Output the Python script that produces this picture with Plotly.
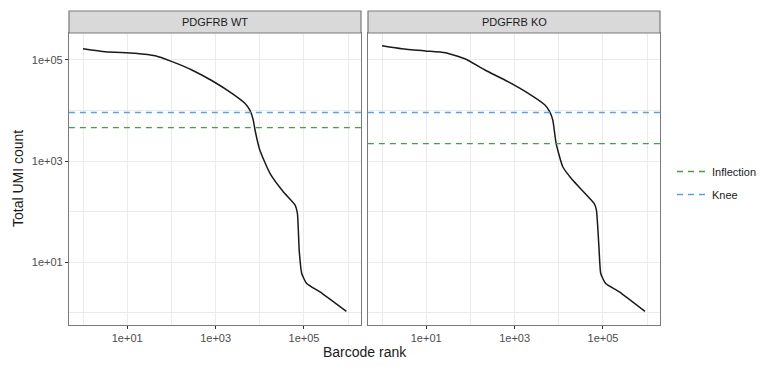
import plotly.graph_objects as go

# Barcode rank curves
wt_rank = [1, 3.2, 15, 43, 100, 290, 815, 2300, 4600, 6000, 7100, 7800, 10000, 17000, 34000, 63000, 71000, 78000, 89000, 115000, 230000, 9.1e5]
wt_umi = [1.66e5, 1.45e5, 1.35e5, 1.2e5, 9.3e4, 6.3e4, 3.9e4, 2.2e4, 1.38e4, 1.0e4, 6500, 4100, 1650, 570, 247, 135, 92, 17, 6, 3.8, 2.6, 1.07]

ko_rank = [1, 2.8, 9.5, 27, 75, 213, 710, 2000, 4800, 6200, 7300, 8700, 12300, 20500, 63000, 71000, 81000, 89000, 115000, 234000, 8.9e5]
ko_umi = [1.9e5, 1.66e5, 1.5e5, 1.38e5, 1.05e5, 6.3e4, 3.7e4, 2.2e4, 1.29e4, 9500, 6500, 2240, 770, 420, 145, 107, 20, 6, 3.8, 2.6, 1.07]

panels = ["PDGFRB WT", "PDGFRB KO"]
knee = [9100, 9100]
inflection = [4570, 2200]

x_ticks = [10, 1000, 100000]
x_tick_labels = ["1e+01", "1e+03", "1e+05"]
x_minor = [1, 100, 10000, 1000000]
y_ticks = [10, 1000, 100000]
y_tick_labels = ["1e+01", "1e+03", "1e+05"]
y_minor = [1, 100, 10000]

GREEN = "#44a044"
BLUE = "#55a2ec"
BORDER = "#7a7a7a"
GRID = "#ebebeb"

fig = go.Figure()

curves = [(wt_rank, wt_umi), (ko_rank, ko_umi)]
for i, (xr, yu) in enumerate(curves):
    xa = "x" if i == 0 else "x2"
    ya = "y" if i == 0 else "y2"
    fig.add_trace(go.Scatter(x=xr, y=yu, mode="lines", line=dict(color="#1a1a1a", width=1.5, shape="spline", smoothing=0.5),
                             xaxis=xa, yaxis=ya, showlegend=False, hoverinfo="skip"))
    xs = [10 ** -0.32, 10 ** 6.29]
    fig.add_trace(go.Scatter(x=xs, y=[inflection[i]] * 2, mode="lines",
                             line=dict(color=GREEN, width=1.3, dash="6px,5px"),
                             xaxis=xa, yaxis=ya, name="Inflection", legendgroup="Inflection",
                             showlegend=(i == 0)))
    fig.add_trace(go.Scatter(x=xs, y=[knee[i]] * 2, mode="lines",
                             line=dict(color=BLUE, width=1.3, dash="6px,5px"),
                             xaxis=xa, yaxis=ya, name="Knee", legendgroup="Knee",
                             showlegend=(i == 0)))

W, H = 762, 367
ml, mr, mt, mb = 69, 102, 33, 42
plot_w = W - ml - mr
plot_h = H - mt - mb
d1 = [0, 292 / plot_w]
d2 = [(368 - ml) / plot_w, 1]

axfont = dict(family="Liberation Sans, Arial", size=11, color="#4d4d4d")
xcommon = dict(type="log", range=[-0.317, 6.29], tickvals=x_ticks, ticktext=x_tick_labels,
               showgrid=True, gridcolor=GRID, gridwidth=1,
               minor=dict(tickvals=x_minor, showgrid=True, gridcolor=GRID, gridwidth=0.6, ticks=""),
               ticks="outside", ticklen=3, tickcolor="#333333", tickwidth=1, tickfont=axfont,
               showline=True, linecolor=BORDER, linewidth=1.2, mirror=True, zeroline=False)
ycommon = dict(type="log", range=[-0.24, 5.53], tickvals=y_ticks, ticktext=y_tick_labels,
               showgrid=True, gridcolor=GRID, gridwidth=1,
               minor=dict(tickvals=y_minor, showgrid=True, gridcolor=GRID, gridwidth=0.6, ticks=""),
               tickcolor="#333333", tickwidth=1, ticklen=3, tickfont=axfont,
               showline=True, linecolor=BORDER, linewidth=1.2, mirror=True, zeroline=False)

fig.update_layout(
    width=W, height=H,
    margin=dict(l=ml, r=mr, t=mt, b=mb, autoexpand=False),
    paper_bgcolor="white", plot_bgcolor="white",
    font=dict(family="Liberation Sans, Arial", color="#1a1a1a"),
    xaxis=dict(domain=d1, anchor="y", **xcommon),
    yaxis=dict(domain=[0, 1], anchor="x", ticks="outside", **ycommon),
    xaxis2=dict(domain=d2, anchor="y2", **xcommon),
    yaxis2=dict(domain=[0, 1], anchor="x2", matches="y", showticklabels=False, ticks="", **ycommon),
    legend=dict(xref="container", yref="container", x=672 / W, y=1 - 183 / H,
                xanchor="left", yanchor="middle",
                font=dict(size=11, color="#1a1a1a"), bgcolor="rgba(0,0,0,0)",
                itemwidth=30, tracegroupgap=4),
    showlegend=True,
)

strip_h = 22 / plot_h
for i, d in enumerate([d1, d2]):
    fig.add_shape(type="rect", xref="paper", yref="paper", x0=d[0], x1=d[1], y0=1, y1=1 + strip_h,
                  fillcolor="#d9d9d9", line=dict(color=BORDER, width=1.2), layer="above")
    fig.add_annotation(xref="paper", yref="paper", x=(d[0] + d[1]) / 2, y=1 + strip_h / 2,
                       text=panels[i], showarrow=False, font=dict(size=11, color="#1a1a1a"),
                       xanchor="center", yanchor="middle")

fig.add_annotation(xref="paper", yref="paper", x=(365 - ml) / plot_w, y=-(352 - (mt + plot_h)) / plot_h,
                   text="Barcode rank", showarrow=False, font=dict(size=14, color="#1a1a1a"),
                   xanchor="center", yanchor="middle")
fig.add_annotation(xref="paper", yref="paper", x=-(ml - 18) / plot_w, y=1 - (179 - mt) / plot_h,
                   text="Total UMI count", showarrow=False, textangle=-90,
                   font=dict(size=14, color="#1a1a1a"), xanchor="center", yanchor="middle")

fig.write_html("out.html", config={"displayModeBar": False},
               post_script="document.body.style.margin='0';document.body.style.padding='0';")
